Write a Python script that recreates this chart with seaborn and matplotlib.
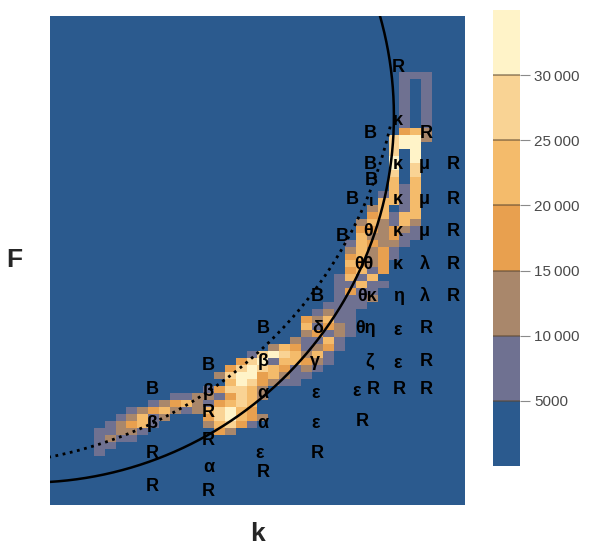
import numpy as np
import pandas as pd
import matplotlib
matplotlib.use("Agg")
import matplotlib.pyplot as plt
from matplotlib.colors import ListedColormap
import seaborn as sns

sns.set_style("white")
plt.rcParams['font.family'] = ['Liberation Sans', 'DejaVu Sans']

# histogram grid: 38 k-bins x 70 F-bins (row 0 = top)
n_k, n_F = 38, 70

# colour classes (0 = <5000 ... 6 = >30000)
# (F-bin row, first k-bin, classes of consecutive k-bins)
band_rows = [
    (8, 32, "111"),
    (9, 32, "101"), (10, 32, "101"), (11, 32, "101"), (12, 32, "101"),
    (13, 32, "101"), (14, 32, "101"), (15, 32, "101"),
    (16, 32, "342"),
    (17, 31, "5662"),
    (18, 31, "566"),
    (19, 31, "506"),
    (20, 31, "606"),
    (21, 31, "605"),
    (22, 31, "505"),
    (23, 31, "404"),
    (24, 31, "414"),
    (25, 30, "1414"),
    (26, 30, "4414"),
    (27, 29, "24014"),
    (28, 29, "34144"),
    (29, 28, "242142"),
    (30, 28, "332321"),
    (31, 28, "422311"),
    (32, 27, "143221"),
    (33, 27, "24231"),
    (34, 27, "34231"),
    (35, 27, "4323"),
    (36, 27, "3413"),
    (37, 26, "1414"),
    (38, 26, "11411"),
    (39, 26, "1311"),
    (40, 26, "1112"),
    (41, 25, "1111"),
    (42, 24, "1211"),
    (43, 23, "32411"),
    (44, 23, "41321"),
    (45, 23, "23121"),
    (46, 22, "21141"),
    (47, 20, "2431231"),
    (48, 18, "15654241"),
    (49, 17, "356144321"),
    (50, 16, "356543121"),
    (51, 15, "256634211"),
    (52, 16, "4653211"),
    (53, 14, "135542"),
    (54, 11, "112213542"),
    (55, 9, "1234213454"),
    (56, 7, "123421245643"),
    (57, 6, "12412000356432"),
    (58, 5, "12341000024531"),
    (59, 4, "1122100000032"),
    (60, 4, "1211"),
    (61, 4, "11"),
    (62, 4, "1"),
]

level_colors = ["#2b5a8e", "#6f7191", "#a9876b", "#e8a04f",
                "#f4bb6b", "#f9d394", "#fff3c8"]
tick_vals = [5000, 10000, 15000, 20000, 25000, 30000]
tick_labels = ["5000", "10\u2009000", "15\u2009000", "20\u2009000",
               "25\u2009000", "30\u2009000"]

# region labels: text, k position, F position (bin units)
lab_text = ["R", "κ", "B", "R",
            "B", "κ", "μ", "R", "B",
            "B", "ι", "κ", "μ", "R",
            "B", "θ", "κ", "μ", "R",
            "θθ", "κ", "λ", "R",
            "B", "θκ", "η", "λ", "R",
            "B", "δ", "θη", "ε", "R",
            "B", "β", "γ", "ζ", "ε", "R",
            "B", "β", "α", "ε", "ε", "R", "R", "R",
            "β", "R", "α", "ε", "R",
            "R", "R", "ε", "R",
            "α", "R",
            "R", "R"]
lab_k = [31.9, 31.8, 29.3, 34.5,
         29.3, 31.8, 34.3, 36.9, 29.4,
         27.7, 29.4, 31.8, 34.3, 36.9,
         26.8, 29.1, 31.8, 34.3, 36.9,
         28.7, 31.8, 34.3, 36.9,
         24.5, 29.0, 31.9, 34.3, 36.9,
         19.5, 24.5, 28.9, 31.8, 34.5,
         14.5, 19.5, 24.3, 29.3, 31.8, 34.5,
         9.4, 14.5, 19.5, 24.3, 28.1, 29.6, 32.0, 34.5,
         9.4, 14.5, 19.5, 24.3, 28.6,
         9.4, 14.5, 19.2, 24.5,
         14.5, 19.5,
         9.4, 14.5]
lab_F = [7.4, 14.9, 16.8, 16.8,
         21.3, 21.3, 21.3, 21.3, 23.6,
         26.3, 26.6, 26.3, 26.3, 26.3,
         31.5, 30.9, 30.9, 30.9, 30.9,
         35.6, 35.6, 35.6, 35.6,
         40.2, 40.2, 40.2, 40.2, 40.2,
         44.7, 44.7, 44.7, 45.0, 44.7,
         50.0, 49.5, 49.5, 49.5, 49.8, 49.5,
         53.5, 53.8, 54.0, 54.0, 53.8, 53.5, 53.5, 53.5,
         58.3, 56.8, 58.3, 58.3, 58.1,
         62.6, 60.7, 62.6, 62.6,
         64.6, 65.3,
         67.4, 68.1]

# model curves (elliptic arcs in bin units): centre k, centre F, half-axes
solid_arc = dict(k0=-2.09, F0=14.31, ak=33.58, aF=52.49, t0=88, t1=-20)
dotted_arc = dict(k0=-7.70, F0=2.03, ak=39.84, aF=62.27, t0=82, t1=12.6)

grid = np.zeros((n_F, n_k))
for r, c0, s in band_rows:
    for i, ch in enumerate(s):
        grid[r, c0 + i] = int(ch)
counts = pd.DataFrame(grid * 5000 + 2500)

fig = plt.figure(figsize=(5.91, 5.48), dpi=100)
ax = fig.add_axes([0.0846, 0.0785, 0.7022, 0.8923])
cax = fig.add_axes([0.8342, 0.1496, 0.0457, 0.8322])

sns.heatmap(counts, ax=ax, cmap=ListedColormap(level_colors), vmin=0, vmax=35000,
            cbar_ax=cax, xticklabels=False, yticklabels=False,
            cbar_kws={"ticks": tick_vals})

cbar = ax.collections[0].colorbar
cbar.outline.set_visible(False)
cbar.set_ticks(tick_vals, labels=tick_labels)
cax.tick_params(length=7, width=0.8, color="#8a8a8a", labelsize=11,
                labelcolor="#4a4a4a", pad=3)
for v in tick_vals:
    cax.axhline(v, color="#5a4630", lw=1.2, alpha=0.6)

for arc, ls in [(solid_arc, "-"), (dotted_arc, ":")]:
    t = np.radians(np.linspace(arc["t0"], arc["t1"], 300))
    ax.plot(arc["k0"] + arc["ak"] * np.cos(t), arc["F0"] + arc["aF"] * np.sin(t),
            color="black", lw=1.8 if ls == "-" else 2.0, ls=ls)

for s, k, f in zip(lab_text, lab_k, lab_F):
    ax.text(k, f, s, ha="center", va="center",
            fontsize=12 if s == "ι" else 13,
            fontweight="bold", color="black")

ax.set_xlim(0, n_k)
ax.set_ylim(n_F, 0)
ax.set_xlabel("k", fontsize=19, fontweight="bold", labelpad=12)
ax.set_ylabel("F", fontsize=19, fontweight="bold", rotation=0, labelpad=26, va="center")

fig.savefig("out.png", dpi=100)
